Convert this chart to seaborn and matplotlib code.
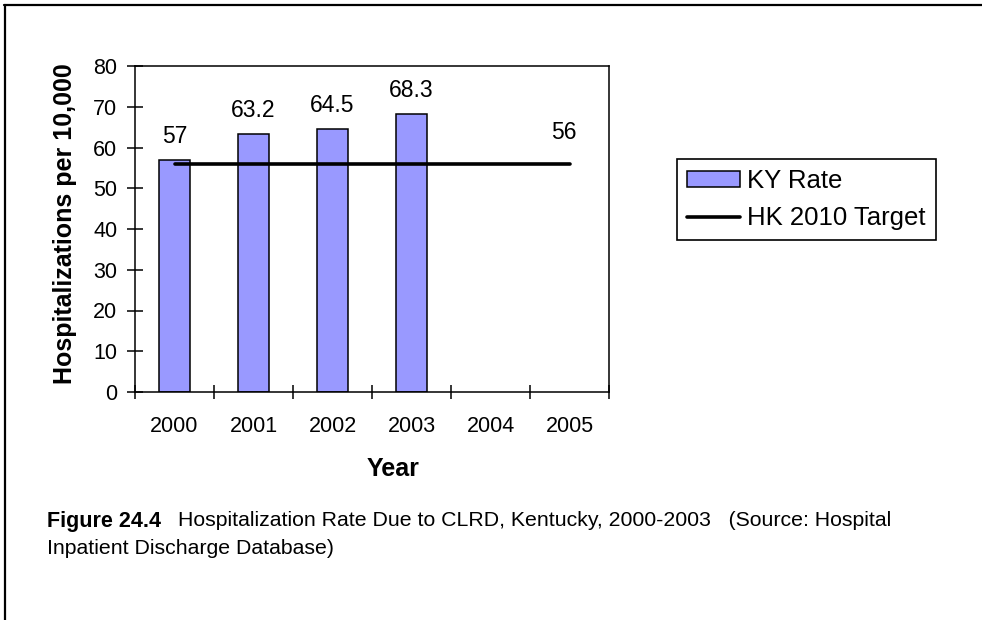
import numpy as np
import pandas as pd
import matplotlib
matplotlib.use("Agg")
import matplotlib.pyplot as plt
import seaborn as sns

sns.set_theme(style="white")
plt.rcParams['font.family'] = ['Liberation Sans', 'DejaVu Sans']
plt.rcParams['text.color'] = 'black'
plt.rcParams['axes.labelcolor'] = 'black'
plt.rcParams['xtick.color'] = 'black'
plt.rcParams['ytick.color'] = 'black'

years = ["2000", "2001", "2002", "2003", "2004", "2005"]
ky_rate = [57, 63.2, 64.5, 68.3, np.nan, np.nan]
target = [56, 56, 56, 56, 56, 56]
bar_labels = ["57", "63.2", "64.5", "68.3"]
target_label = "56"
y_ticks = [0, 10, 20, 30, 40, 50, 60, 70, 80]

df = pd.DataFrame({"Year": years, "KY Rate": ky_rate, "Target": target})
df["pos"] = np.arange(len(years))

fig = plt.figure(figsize=(9.82, 6.2), dpi=100)
ax = fig.add_axes([135 / 982, 1 - 392 / 620, 474 / 982, 326 / 620])

sns.barplot(data=df, x="Year", y="KY Rate", ax=ax, color="#9999FF",
            saturation=1, width=0.4, edgecolor="black", linewidth=1.1,
            label="KY Rate", zorder=2)
sns.lineplot(data=df, x="pos", y="Target", ax=ax, color="black", linewidth=2.6,
             label="HK 2010 Target", zorder=3)

ax.set_xlim(-0.5, 5.5)
ax.set_ylim(0, 80)
ax.set_yticks(y_ticks)
ax.set_yticklabels([str(t) for t in y_ticks], fontsize=15.5)
ax.set_xticks(np.arange(len(years) + 1) - 0.5)
ax.set_xticklabels([""] * (len(years) + 1))
ax.set_xticks(np.arange(len(years)), minor=True)
ax.set_xticklabels(years, minor=True, fontsize=15.5)
ax.tick_params(axis="x", which="major", direction="inout", length=9.5, width=1.1, bottom=True)
ax.tick_params(axis="x", which="minor", length=0, pad=17, bottom=True)
ax.tick_params(axis="y", direction="inout", length=11.5, width=1.1, left=True, pad=7)

for s in ax.spines.values():
    s.set_visible(True)
    s.set_color("black")
    s.set_linewidth(1.1)

ax.set_xlabel("Year", fontsize=18, fontweight="bold")
ax.set_ylabel("Hospitalizations per 10,000", fontsize=18, fontweight="bold")
ax.xaxis.set_label_coords(0.545, -0.235)
ax.xaxis.label.set_va("center")
ax.yaxis.set_label_coords(-0.148, 0.515)
ax.yaxis.label.set_va("center")

for i, lab in enumerate(bar_labels):
    ax.text(i, ky_rate[i] + 5.8, lab, ha="center", va="center", fontsize=16.5)
ax.text(len(years) - 1 - 0.076, target[-1] + 7.8, target_label, ha="center", va="center", fontsize=16.5)

handles, labels = ax.get_legend_handles_labels()
order = [labels.index("KY Rate"), labels.index("HK 2010 Target")]
ax.legend([handles[i] for i in order], [labels[i] for i in order],
          loc="upper left", bbox_to_anchor=(677 / 982, 1 - 159 / 620),
          bbox_transform=fig.transFigure, borderaxespad=0,
          frameon=True, fancybox=False, edgecolor="black", fontsize=18.5,
          handlelength=2.06, handleheight=0.6, borderpad=0.4, labelspacing=0.5,
          handletextpad=0.27, framealpha=1)
ax.get_legend().get_frame().set_linewidth(1.2)

fig.text(47 / 982, 1 - 521 / 620, "Figure 24.4", fontsize=15.5, fontweight="bold", va="center", ha="left")
fig.text(178 / 982, 1 - 521 / 620,
         "Hospitalization Rate Due to CLRD, Kentucky, 2000-2003   (Source: Hospital",
         fontsize=15.3, va="center", ha="left")
fig.text(47 / 982, 1 - 548 / 620, "Inpatient Discharge Database)", fontsize=15.3, va="center", ha="left")

fig.add_artist(plt.Line2D([0.0055, 0.0055], [0, 0.992], color="black", linewidth=1.6, transform=fig.transFigure))
fig.add_artist(plt.Line2D([0.0045, 1.0], [0.992, 0.992], color="black", linewidth=1.6, transform=fig.transFigure))

fig.savefig("out.png", dpi=100)
